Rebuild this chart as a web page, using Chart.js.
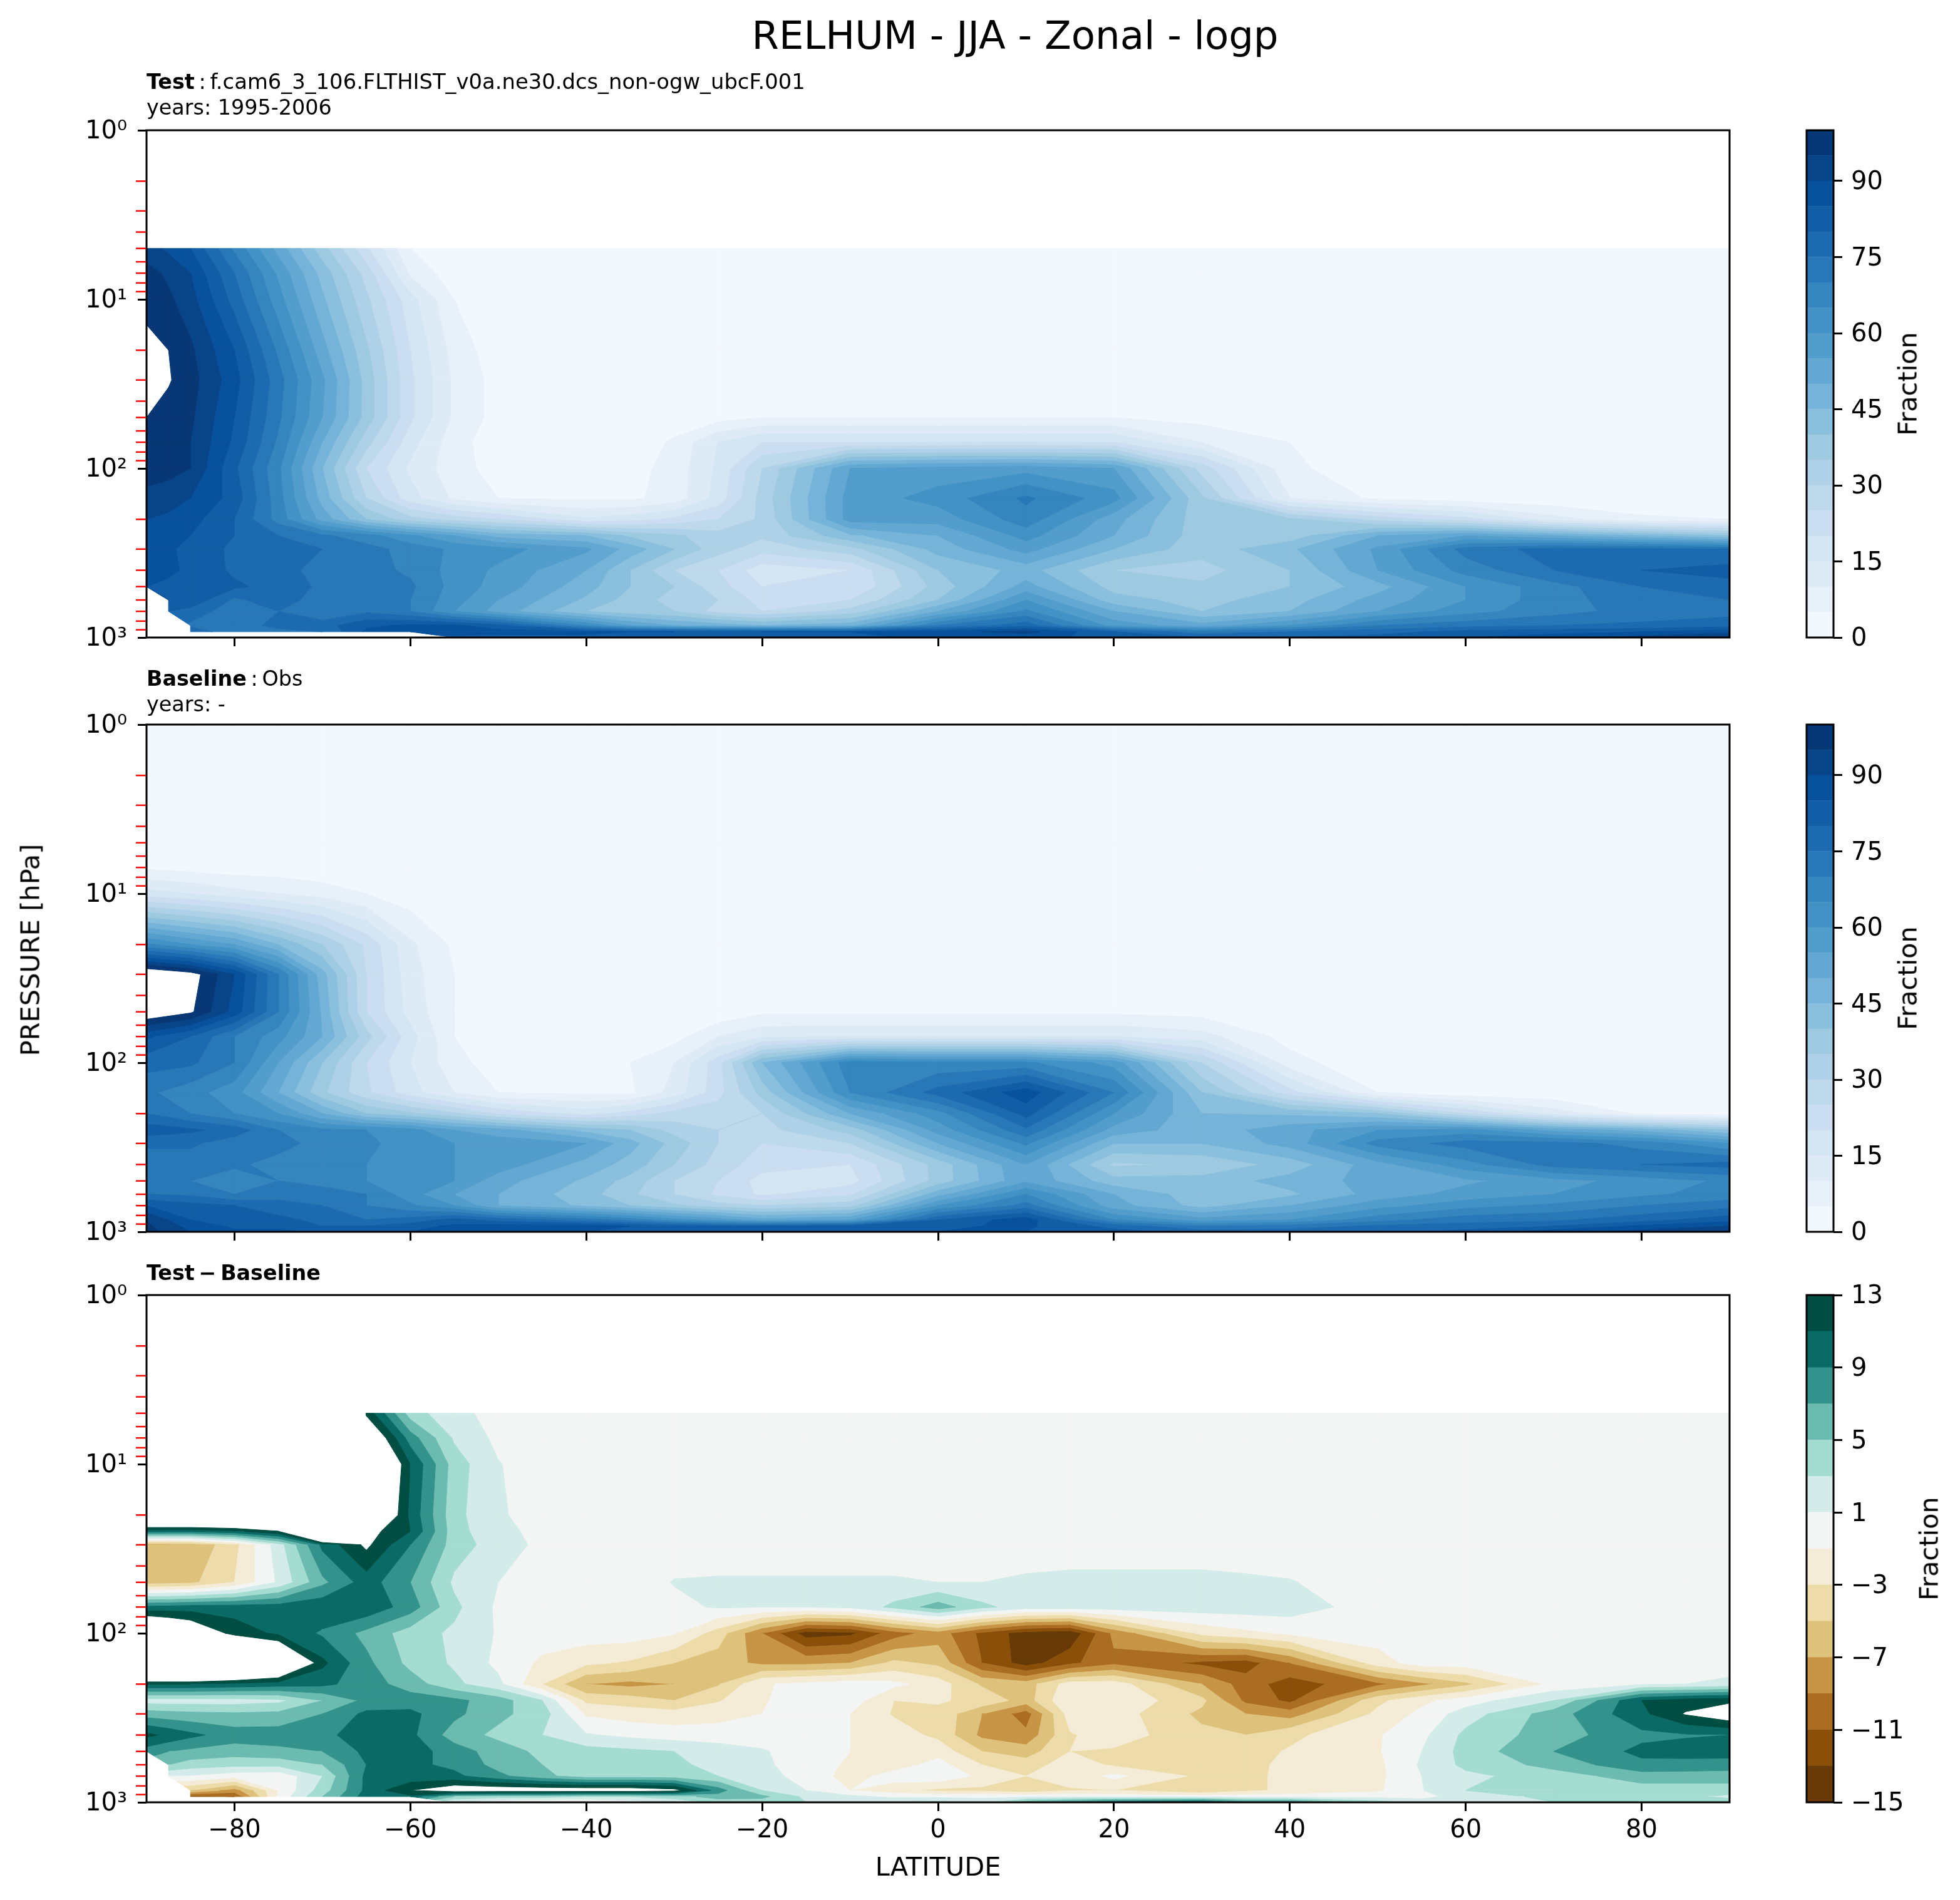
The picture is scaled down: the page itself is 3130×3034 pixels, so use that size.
<!DOCTYPE html>
<html>
<head>
<meta charset="utf-8">
<title>RELHUM - JJA - Zonal - logp</title>
<script src="https://cdn.jsdelivr.net/npm/chart.js@4/dist/chart.umd.js"></script>
<style>
  body { margin: 0; background: #fff; width: 3130px; height: 3034px; position: relative; overflow: hidden; }
  canvas { position: absolute; }
  .txt { position: absolute; font-family: "DejaVu Sans"; color: #000; white-space: nowrap; }
  .sub { font-size: 33.4px; line-height: 41px; left: 234px; }
  .sub span { font-size: 33.8px; }
  .rot { font-size: 41.5px; transform: translate(-50%, -50%) rotate(-90deg); }
</style>
</head>
<body>
<canvas id="test" width="2800" height="900" style="left:0;top:163px"></canvas>
<canvas id="base" width="2800" height="900" style="left:0;top:1112px"></canvas>
<canvas id="diff" width="2800" height="990" style="left:0;top:2023px"></canvas>
<canvas id="cbTest" width="260" height="900" style="left:2870px;top:163px"></canvas>
<canvas id="cbBase" width="260" height="900" style="left:2870px;top:1112px"></canvas>
<canvas id="cbDiff" width="260" height="900" style="left:2870px;top:2023px"></canvas>

<div class="txt" style="left:1621px;top:56px;font-size:62.5px;transform:translate(-50%,-50%)">RELHUM - JJA - Zonal - logp</div>
<div class="txt sub" style="top:110px"><b>Test</b>&thinsp;:&thinsp;<span>f.cam6_3_106.FLTHIST_v0a.ne30.dcs_non-ogw_ubcF.001</span><br>years: 1995-2006</div>
<div class="txt sub" style="top:1063px"><b>Baseline</b>&thinsp;:&thinsp;Obs<br>years: -</div>
<div class="txt sub" style="top:2012px"><b>Test&thinsp;&minus;&thinsp;Baseline</b></div>
<div class="txt rot" style="left:48px;top:1517px">PRESSURE [hPa]</div>
<div class="txt rot" style="left:3046px;top:613px">Fraction</div>
<div class="txt rot" style="left:3046px;top:1562px">Fraction</div>
<div class="txt rot" style="left:3080px;top:2473px">Fraction</div>

<script>
// grids, rows top to bottom of the plot
const testLats = [-90,-87.5,-85,-80,-75,-70,-65,-60,-55,-50,-40,-35,-30,-25,-20,-10,0,10,20,30,40,50,60,70,80,90];
const testLevels = [5,7,10,20,30,50,70,100,150,200,250,300,400,500,600,700,850,925,1000];
const testValues = [
  [92,89,85,69,53,37,21,5,1,1,1,1,1,1,1,1,1,1,1,1,1,1,1,1,1,1],
  [97,94,90,75,59,43,28,9,2,1,1,1,1,1,1,1,1,1,1,1,1,1,1,1,1,1],
  [98,96,92,78,62,46,31,17,5,1,1,1,1,1,1,1,1,1,1,1,1,1,1,1,1,1],
  [102,100,96,85,69,52,36,20,8,2,1,1,1,1,1,1,1,1,1,1,1,1,1,1,1,1],
  [103,100.5,97,87,72,56,38,21,9,3,1,1,1,1,1,1,1,1,1,1,1,1,1,1,1,1],
  [100,98,96,85,71,55,38,21,9,3,1,1,1,3,5,5,5,5,5,3,1,1,1,1,1,1],
  [98,97,95,84,69,50,32,17,7,2,1,1,6,15,20,20,20,20,20,10,5,1,1,1,1,1],
  [98,97,95,81,66,45,25,14,7,3,1,3,7,16,30,55,57,58,55,28,6,2,1,1,1,1],
  [93,92,90,83,67,48,30,17,9,5,4,4,7,17,32,57,62,71,62,36,10,4,2,1,1,1],
  [90,89,87,80,68,53,40,32,28,25,16,18,21,25,31,57,57,68,52,37,36,28,22,12,6,5],
  [88,87,85,80,75,71,67,61,55,48,45,39,36,32,31,44,50,62,50,37,37,50,55,50,45,40],
  [88,86,83,79,77,75,72,68,64,62,56,48,40,32,27,33,47,57,45,37,44,56,72,77,76,75],
  [88,86,84,79,76,74,72,69,63,59,50,40,30,25,17,20,40,47,35,33,40,55,67,75,80,82],
  [85,84,83,81,78,74,72,71,63,58,47,40,35,27,20,20,37,52,38,36,40,48,60,68,75,78],
  [null,85,84,74,78,72,75,70,62,55,44,38,33,30,23,25,40,60,42,38,43,52,60,68,73,75],
  [null,80,78,72,75,70,74,70,60,53,40,37,35,28,25,32,50,66,50,40,45,55,63,68,72,73],
  [null,null,74,70,78,78,84,86,86,82,65,55,50,48,45,48,70,78,58,52,60,70,73,75,76,78],
  [null,null,78,72,72,75,86,88,90,87,86,85,85,84,85,85,88,92,80,72,75,78,82,83,85,88],
  [null,null,null,null,null,null,null,null,82,83,84,82,80,80,82,84,86,86,84,80,80,82,85,88,92,96]
];

const baseLats = [-90,-85,-80,-75,-70,-65,-60,-55,-50,-40,-35,-30,-25,-20,-10,0,10,20,30,40,50,60,70,80,90];
const baseLevels = [1,5,7,10,20,30,50,70,100,150,200,250,300,400,500,600,700,850,925,1000];
const baseValues = [
  [1,1,1,1,1,1,1,1,1,1,1,1,1,1,1,1,1,1,1,1,1,1,1,1,1],
  [1,1,1,1,1,1,1,1,1,1,1,1,1,1,1,1,1,1,1,1,1,1,1,1,1],
  [4,3,2,2,1,1,1,1,1,1,1,1,1,1,1,1,1,1,1,1,1,1,1,1,1],
  [17,15,12,10,8,5,2,1,1,1,1,1,1,1,1,1,1,1,1,1,1,1,1,1,1],
  [66,60,55,45,35,24,11,4,1,1,1,1,1,1,1,1,1,1,1,1,1,1,1,1,1],
  [108,103,90,70,47,25,12,5,1,1,1,1,1,1,1,1,1,1,1,1,1,1,1,1,1],
  [106,101,88,70,49,25,13,5,2,1,1,1,1,4,4,4,4,4,3,1,1,1,1,1,1],
  [86,80,70,62,50,32,17,5,2,1,1,3,10,14,15,15,15,15,12,3,1,1,1,1,1],
  [77,76,70,55,40,25,15,7,2,1,5,10,23,45,68,66,66,58,30,7,1,1,1,1,1],
  [71,67,62,50,36,26,17,10,5,4,4,12,23,37,65,77,88,70,40,22,5,1,1,1,1],
  [75,70,65,60,50,40,36,31,24,18,22,27,28,30,50,63,82,60,45,44,40,25,13,4,2],
  [83,81,78,70,66,65,62,55,52,43,40,33,30,28,37,57,74,53,47,53,60,62,53,48,40],
  [76,76,72,72,68,66,63,60,58,55,47,38,30,25,30,50,66,45,45,52,67,72,72,68,60],
  [72,72,71,68,67,65,63,60,58,48,43,35,28,22,20,37,55,34,36,42,53,63,72,75,77],
  [72,70,67,70,67,65,63,60,52,44,38,30,25,18,18,37,54,42,42,47,52,54,58,62,66],
  [75,74,70,74,74,70,62,55,50,42,36,30,24,19,24,48,65,50,42,44,52,57,60,64,67],
  [85,82,80,76,75,70,66,60,50,44,40,36,32,30,33,60,72,52,43,50,58,63,66,70,73],
  [95,85,82,82,78,75,77,82,78,72,68,62,58,52,55,80,88,65,57,60,68,73,74,78,83],
  [96,88,84,84,80,80,83,86,87,87,85,82,80,80,82,84,86,78,70,72,76,77,80,86,90],
  [97,90,86,86,84,84,85,87,87,85,84,82,80,80,82,85,85,82,78,78,78,82,88,92,96]
];

const diffLats = [-90,-87.5,-85,-80,-75,-70,-65,-60,-55,-50,-45,-40,-35,-30,-25,-20,-15,-10,-5,0,5,10,15,20,30,35,40,50,55,60,70,80,85,90];
const diffLevels = [5,7,10,20,25,30,50,70,100,150,200,250,300,400,500,600,700,850,925,1000];
const diffValues = [
  [50,50,50,50,50,50,12.5,4,1.5,0.4,0,0,0,0,0,0,0,0,0,0,0,0,0,0,0,0,0,0,0,0,0,0,0,0],
  [50,50,50,50,50,50,17,8,2.7,0.5,0,0,0,0,0,0,0,0,0,0,0,0,0,0,0,0,0,0,0,0,0,0,0,0],
  [50,50,50,50,50,50,21,11,4,1.1,0,0,0,0,0,0,0,0,0,0,0,0,0,0,0,0,0,0,0,0,0,0,0,0],
  [24,24,24,24,24,50,19.4,10.5,3.6,1.3,0,0,0,0,0,0,0,0,0,0,0,0,0,0,0,0,0,0,0,0,0,0,0,0],
  [9.5,9.5,9.5,10.5,12.8,30,14,11,3.8,1.5,0.5,0,0,0,0,0,0,0,0,0,0,0,0,0,0,0,0,0,0,0,0,0,0,0],
  [-7,-7,-6.8,-3.6,2,9.5,13.5,9,4,2,0.5,0,0,0,0,0,0,0,0,0,0,0,0,0,0,0,0,0,0,0,0,0,0,0],
  [-6,-5.8,-5.5,-3,1.3,6.5,10,7,2.6,1,0.5,0,0,1.1,1.2,1.2,1.2,1.2,1.2,1,1,1.3,1.5,1.5,1.5,1.3,1.1,0,0,0,0,0,0,0],
  [9.5,9.7,10,10,10,10.5,10.5,8,3.5,0.6,0,0,0,0.5,1.2,1,1,1.5,3.5,6,3.5,2,2,2,2,2,2,0,0,0,0,0,0,0],
  [20,18,16,12.2,10.6,8.7,6.4,4,2.6,0.8,0,0,0,-0.8,-4,-9,-14,-13.5,-10,-8,-11.5,-14,-14.6,-8.5,-2.5,-1.5,-0.7,0,0,0,0,0,0,0],
  [30,30,30,25,20,11.5,7.5,4.4,2.7,0.5,-1.4,-2.6,-3.3,-5,-6,-7.5,-7.5,-7,-4.5,-5.5,-11,-14,-11.5,-9.5,-11.5,-12,-9,-2,0,0,0,0,0,0],
  [11,11,11,10.5,10,9.5,8,6,3.5,1.5,-3,-7,-7.6,-7,-5.2,-1.2,-0.5,0,-0.5,-2,-5.3,-6,-2,-2,-7,-10,-12,-9.5,-7.5,-5.5,-0.5,0.8,1,1.5],
  [2,2,2,2,2.5,5,7.5,8,7.5,6,3,-3.5,-4,-5,-3.2,-1.2,0,0,-3,-2.8,-3.5,-6,-1,-1.5,-4.5,-9.5,-11.5,-3.5,-1.5,0,3,11,12,12.5],
  [6,5.7,5.5,5.3,5.5,7,9.5,9.5,7.5,5.5,4,-1.3,-2,-2.2,-1.8,-1,0,-1,-3.2,-3.5,-7,-10,-2,-2,-5.5,-7,-8,-2.5,-0.5,2,6,10.5,13.2,15],
  [11.5,10.5,9.5,8,8,8.5,10,9.5,6,4.5,3,1.2,0.5,0,0,0,0,-1,-2,-3.5,-7.5,-8.5,-3.2,-2,-4.5,-5,-3.5,-1.2,0.5,3.5,6,8.5,8.8,9],
  [8,7,6.5,6,6.5,7,9.5,10,8,6,4.5,3.8,3.4,3,2,1.2,0,-1,-1.5,-1.8,-5,-6,-3,-3.3,-4,-3.8,-2.8,-1.2,1,3.8,7,9.5,9.8,10],
  [null,5,4,3.5,3.5,5,9,9.5,8.5,6.3,5,4,4,3.8,1.8,1.4,0,-1.3,-2,-0.2,-3,-4,-2,-3.3,-4,-3.6,-2.5,-1.5,1.3,3.5,5.7,8.5,8.3,8],
  [null,1,0.8,-0.2,-0.5,3,9.5,9.5,9.5,7.5,5.5,4,4,3.8,3,1.5,0.5,-2,0,0.5,-1.5,-3,-2.2,-0.5,-3.5,-3.5,-2.5,-1.5,1,2.5,4,6,6,6],
  [null,null,-5,-8,-1,4,9.5,13,15,15,15,15,15,14,8,3,1,-1,-2.2,-3.5,-3.5,-4.5,-3.2,-3,-5,-3.5,-2.5,-1.3,0.9,3,3,4,4,4],
  [null,null,-12,-11,-0.5,5,10,10.5,5,4,4,3,3,4,6,5.5,2.5,1.5,0.5,0.5,0.5,0.5,0.5,0,0,0,0,0.2,0.3,2,3.5,4,3.5,2.5],
  [null,null,null,null,null,null,null,null,0.5,-0.8,-2,-1.5,0,1.5,3.5,4,3,3,3,3.5,2,6,8,10,11,8,8,4,2,1.5,3,4,4,4]
];

const relhumBounds = [0,5,10,15,20,25,30,35,40,45,50,55,60,65,70,75,80,85,90,95,100];
const diffBounds = [-15,-13,-11,-9,-7,-5,-3,-1,1,3,5,7,9,11,13];
const relhumTicks = [0,15,30,45,60,75,90];
const diffTicks = [-15,-11,-7,-3,1,5,9,13];
const latTicks = [-80,-60,-40,-20,0,20,40,60,80];
const pressureTicks = [1,10,100,1000];
const redTicks = [2,3,4,5,6,7,8,9,20,30,40,50,60,70,80,90,200,300,400,500,600,700,800,900];

const bluesStops = [[247,251,255],[222,235,247],[198,219,239],[158,202,225],[107,174,214],[66,146,198],[33,113,181],[8,81,156],[8,48,107]];
const relhumColors = relhumBounds.slice(1).map((_, i) => {
  const t = (i + 0.5) / 20 * 8, k = Math.floor(t), f = t - k;
  const c = bluesStops[k].map((a, n) => Math.round(a + (bluesStops[k + 1][n] - a) * f));
  return `rgb(${c})`;
});
const diffColors = ['#673a07','#8a500a','#ab6d22','#c89546','#dec27c','#eddcaa','#f5ecd7','#f3f5f4','#d3ece9','#a4dcd2','#6cbbb0','#33938c','#0a6b66','#004d42'];

const FONT = { family: 'DejaVu Sans', size: 40 };
const LABEL_FONT = { family: 'DejaVu Sans', size: 41.5 };
const sup = { 1: '10\u2070', 10: '10\u00b9', 100: '10\u00b2', 1000: '10\u00b3' };
const minus = v => String(v).replace('-', '\u2212');

// clip a polygon [x, y, v] to v >= lim (sign 1) or v <= lim (sign -1)
function clip(poly, lim, sign) {
  const out = [];
  for (let i = 0; i < poly.length; i++) {
    const a = poly[i], b = poly[(i + 1) % poly.length];
    const ina = (a[2] - lim) * sign >= 0, inb = (b[2] - lim) * sign >= 0;
    if (ina) out.push(a);
    if (ina !== inb) {
      const f = (lim - a[2]) / (b[2] - a[2]);
      out.push([a[0] + (b[0] - a[0]) * f, a[1] + (b[1] - a[1]) * f, lim]);
    }
  }
  return out;
}

const contourPlugin = {
  id: 'contour',
  beforeDatasetsDraw(chart) {
    const { lons, levels, values, bounds, colors } = chart.config.options.contour;
    const { x, y } = chart.scales, ctx = chart.ctx;
    ctx.save();
    ctx.beginPath();
    ctx.rect(chart.chartArea.left, chart.chartArea.top, chart.chartArea.width, chart.chartArea.height);
    ctx.clip();
    ctx.lineWidth = 1;
    for (let j = 0; j < levels.length - 1; j++) {
      for (let i = 0; i < lons.length - 1; i++) {
        const corners = [[i, j], [i + 1, j], [i + 1, j + 1], [i, j + 1]]
          .filter(c => values[c[1]][c[0]] !== null)
          .map(c => [x.getPixelForValue(lons[c[0]]), y.getPixelForValue(levels[c[1]]), values[c[1]][c[0]]]);
        if (corners.length < 3) continue;
        for (let k = 0; k < colors.length; k++) {
          let poly = clip(corners, bounds[k], 1);
          if (poly.length) poly = clip(poly, bounds[k + 1], -1);
          if (poly.length < 3) continue;
          ctx.beginPath();
          poly.forEach((p, n) => n ? ctx.lineTo(p[0], p[1]) : ctx.moveTo(p[0], p[1]));
          ctx.closePath();
          ctx.fillStyle = ctx.strokeStyle = colors[k];
          ctx.fill();
          ctx.stroke();
        }
      }
    }
    ctx.restore();
  }
};

const framePlugin = {
  id: 'frame',
  afterDraw(chart) {
    const a = chart.chartArea, ctx = chart.ctx;
    ctx.save();
    ctx.strokeStyle = '#000';
    ctx.lineWidth = 3;
    ctx.strokeRect(a.left, a.top, a.width, a.height);
    ctx.restore();
  }
};

const redTickPlugin = {
  id: 'redTicks',
  afterDraw(chart) {
    const ctx = chart.ctx, left = chart.chartArea.left;
    ctx.save();
    ctx.strokeStyle = '#ff0000';
    ctx.lineWidth = 2.5;
    redTicks.forEach(p => {
      const py = chart.scales.y.getPixelForValue(p);
      ctx.beginPath();
      ctx.moveTo(left - 17, py);
      ctx.lineTo(left - 1, py);
      ctx.stroke();
    });
    ctx.restore();
  }
};

// y tick labels sit a few px lower in the reference
const nudgePlugin = {
  id: 'nudge',
  beforeDraw(chart) {
    chart.scales.y.getLabelItems().forEach(item => {
      if (!item.nudged) { item.options.translation[1] += 3; item.nudged = true; }
    });
  }
};

const tickGrid = { drawOnChartArea: false, drawTicks: true, tickLength: 14, tickWidth: 3, tickColor: '#000' };

function panel(id, lons, levels, values, bounds, colors, showX, bottom) {
  const points = [];
  levels.forEach((p, j) => lons.forEach((lat, i) => {
    if (values[j][i] !== null) points.push({ x: lat, y: p, v: values[j][i] });
  }));
  new Chart(document.getElementById(id), {
    type: 'scatter',
    data: { datasets: [{ data: points, pointRadius: 0, showLine: false }] },
    plugins: [contourPlugin, framePlugin, redTickPlugin, nudgePlugin],
    options: {
      responsive: false,
      animation: false,
      events: [],
      contour: { lons, levels, values, bounds, colors },
      layout: { padding: { top: 45, right: 38, left: 0, bottom: 0 } },
      plugins: { legend: { display: false }, title: { display: false }, tooltip: { enabled: false } },
      scales: {
        x: {
          type: 'linear', min: -90, max: 90,
          grid: tickGrid, border: { display: false },
          afterBuildTicks: s => { s.ticks = latTicks.map(v => ({ value: v })); },
          afterFit: s => { s.height = bottom; },
          ticks: { color: '#000', font: FONT, padding: 8, maxRotation: 0, autoSkip: false,
                   callback: v => showX ? minus(v) : '' },
          title: { display: showX, text: 'LATITUDE', color: '#000', font: LABEL_FONT, padding: { top: 0, bottom: 4 } }
        },
        y: {
          type: 'logarithmic', reverse: true, min: 1, max: 1000,
          grid: tickGrid, border: { display: false },
          afterBuildTicks: s => { s.ticks = pressureTicks.map(v => ({ value: v })); },
          afterFit: s => { s.width = 234; },
          ticks: { color: '#000', font: FONT, padding: 17, autoSkip: false, callback: v => sup[v] }
        }
      }
    }
  });
}

function colorbar(id, bounds, colors, ticks) {
  new Chart(document.getElementById(id), {
    type: 'bar',
    data: {
      labels: ['Fraction'],
      datasets: colors.map((c, i) => ({
        data: [[bounds[i], bounds[i + 1]]], backgroundColor: c, borderWidth: 0,
        barPercentage: 1, categoryPercentage: 1, grouped: false
      }))
    },
    plugins: [framePlugin, nudgePlugin],
    options: {
      responsive: false,
      animation: false,
      events: [],
      layout: { padding: { top: 45, bottom: 45, left: 15, right: 0 } },
      plugins: { legend: { display: false }, tooltip: { enabled: false } },
      scales: {
        x: { display: false },
        y: {
          position: 'right', min: bounds[0], max: bounds[bounds.length - 1],
          grid: tickGrid, border: { display: false },
          afterBuildTicks: s => { s.ticks = ticks.map(v => ({ value: v })); },
          afterFit: s => { s.width = 202; },
          ticks: { color: '#000', font: FONT, padding: 14, autoSkip: false, callback: v => minus(v) }
        }
      }
    }
  });
}

panel('test', testLats, testLevels, testValues, relhumBounds, relhumColors, false, 45);
panel('base', baseLats, baseLevels, baseValues, relhumBounds, relhumColors, false, 45);
panel('diff', diffLats, diffLevels, diffValues, diffBounds, diffColors, true, 135);
colorbar('cbTest', relhumBounds, relhumColors, relhumTicks);
colorbar('cbBase', relhumBounds, relhumColors, relhumTicks);
colorbar('cbDiff', diffBounds, diffColors, diffTicks);
</script>
</body>
</html>
